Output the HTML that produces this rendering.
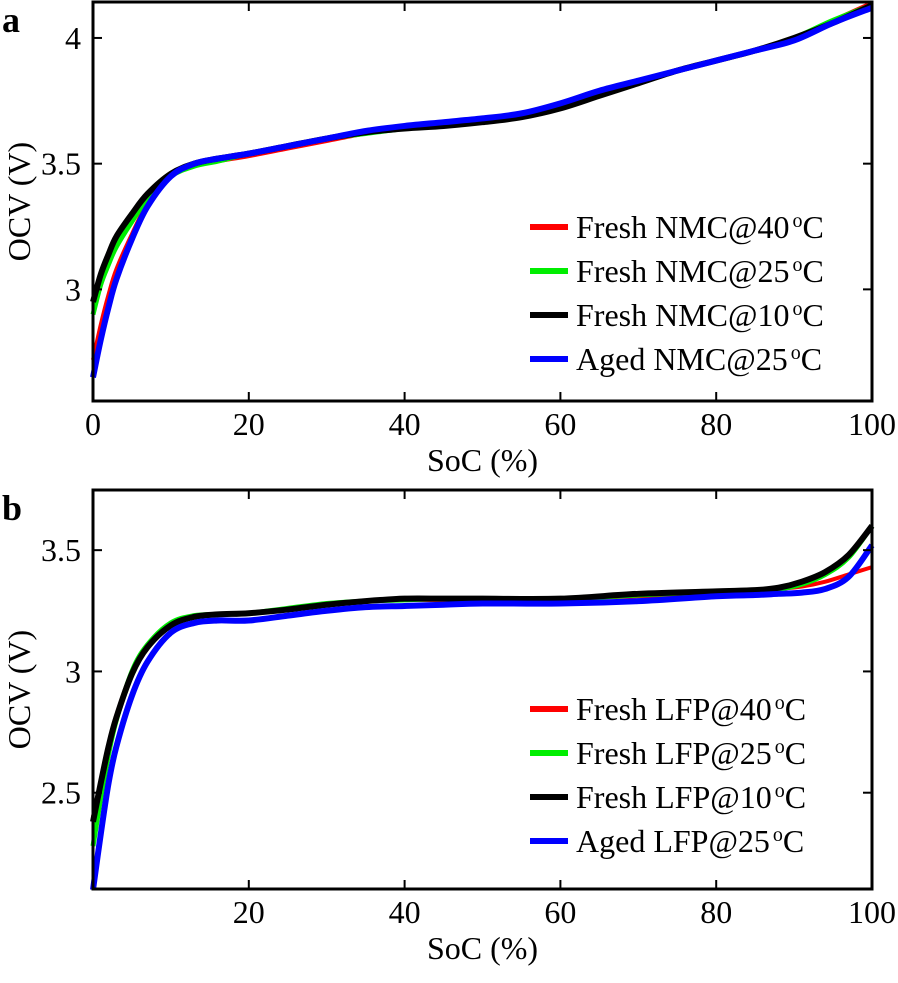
<!DOCTYPE html>
<html><head><meta charset="utf-8"><style>
body{margin:0;background:#fff}
svg text{font-family:"Liberation Serif",serif;fill:#000}
</style></head><body>
<svg id="c" width="898" height="978" xmlns="http://www.w3.org/2000/svg"></svg>
<script>
const socA=[0,1,2,3,5,7,10,13,16,20,25,30,35,40,45,50,55,60,65,70,75,80,85,90,95,100];
const nmc40=[2.72,2.86,2.98,3.08,3.22,3.34,3.45,3.49,3.51,3.53,3.56,3.59,3.62,3.64,3.655,3.67,3.69,3.73,3.78,3.83,3.87,3.91,3.95,4.00,4.07,4.14];
const nmc25=[2.90,3.02,3.10,3.17,3.27,3.36,3.45,3.49,3.51,3.54,3.57,3.60,3.62,3.64,3.655,3.67,3.69,3.73,3.78,3.83,3.87,3.91,3.95,4.00,4.07,4.13];
const nmc10=[2.95,3.06,3.14,3.21,3.30,3.38,3.46,3.50,3.52,3.54,3.57,3.60,3.625,3.64,3.65,3.665,3.685,3.72,3.77,3.82,3.87,3.91,3.95,4.00,4.06,4.13];
const nmcAged=[2.65,2.80,2.93,3.04,3.20,3.33,3.45,3.50,3.52,3.54,3.57,3.60,3.63,3.65,3.665,3.68,3.70,3.74,3.79,3.83,3.87,3.91,3.95,3.99,4.06,4.12];
const socB=[0,1,2,3,5,7,10,13,16,20,25,30,35,40,45,50,60,70,80,85,88,91,94,97,100];
const lfp40=[2.40,2.55,2.70,2.82,3.00,3.10,3.19,3.225,3.235,3.24,3.255,3.275,3.29,3.295,3.295,3.295,3.30,3.31,3.32,3.33,3.34,3.35,3.37,3.40,3.43];
const lfp25=[2.28,2.48,2.66,2.80,3.00,3.11,3.20,3.23,3.235,3.24,3.26,3.28,3.29,3.295,3.30,3.30,3.30,3.315,3.33,3.335,3.34,3.36,3.40,3.47,3.60];
const lfp10=[2.38,2.54,2.69,2.81,2.99,3.10,3.19,3.225,3.235,3.24,3.255,3.275,3.29,3.30,3.30,3.30,3.30,3.32,3.33,3.335,3.345,3.37,3.41,3.48,3.60];
const lfpAged=[2.10,2.33,2.54,2.69,2.90,3.04,3.16,3.20,3.21,3.21,3.23,3.25,3.265,3.27,3.275,3.28,3.28,3.29,3.31,3.315,3.32,3.325,3.34,3.39,3.52];
const xTicksA=[0,20,40,60,80,100], yTicksA=[3,3.5,4];
const xTicksB=[20,40,60,80,100], yTicksB=[2.5,3,3.5];
const colors=["#ff0000","#00ee00","#000000","#0000ff"];
const labelsA=["Fresh NMC@40","Fresh NMC@25","Fresh NMC@10","Aged NMC@25"];
const labelsB=["Fresh LFP@40","Fresh LFP@25","Fresh LFP@10","Aged LFP@25"];

const svg=document.getElementById('c');const NS="http://www.w3.org/2000/svg";
function mk(t,a,p){const e=document.createElementNS(NS,t);for(const k in a)e.setAttribute(k,a[k]);(p||svg).appendChild(e);return e;}
function panel(o){
  const g=mk('g',{});
  
  
  const X=v=>o.x0+(v-0)/100*(o.x1-o.x0);
  const Y=v=>o.y1-(v-o.ymin)/(o.ymax-o.ymin)*(o.y1-o.y0);
  o.series.forEach((s,i)=>{
    const pts=o.soc.map((x,j)=>[X(x),Y(s[j])]);
    let d="M"+pts[0][0]+","+pts[0][1];
    for(let j=0;j<pts.length-1;j++){const p0=pts[Math.max(0,j-1)],p1=pts[j],p2=pts[j+1],p3=pts[Math.min(pts.length-1,j+2)];
      d+=` C${p1[0]+(p2[0]-p0[0])/6},${p1[1]+(p2[1]-p0[1])/6} ${p2[0]-(p3[0]-p1[0])/6},${p2[1]-(p3[1]-p1[1])/6} ${p2[0]},${p2[1]}`;}
    const p=mk('path',{d:d,fill:'none',stroke:colors[i],'stroke-width':i==0?4:(i==1?5:6),'stroke-linejoin':'round'},g);
    
    
  });
  const f=mk('rect',{x:o.x0,y:o.y0,width:o.x1-o.x0,height:o.y1-o.y0,fill:'none',stroke:'#000','stroke-width':3},g);
  
  
  o.xt.forEach(v=>{mk('line',{x1:X(v),x2:X(v),y1:o.y1,y2:o.y1-9,stroke:'#000','stroke-width':2},g);mk('line',{x1:X(v),x2:X(v),y1:o.y0,y2:o.y0+9,stroke:'#000','stroke-width':2},g);
    const t=mk('text',{x:X(v),y:o.y1+34,'text-anchor':'middle','font-size':32},g);t.textContent=v;
    
    });
  o.yt.forEach(v=>{mk('line',{x1:o.x0,x2:o.x0+9,y1:Y(v),y2:Y(v),stroke:'#000','stroke-width':2},g);mk('line',{x1:o.x1,x2:o.x1-9,y1:Y(v),y2:Y(v),stroke:'#000','stroke-width':2},g);
    const t=mk('text',{x:o.x0-12,y:Y(v)+11,'text-anchor':'end','font-size':32},g);t.textContent=v;
    
    });
  const xl=mk('text',{x:(o.x0+o.x1)/2,y:o.y1+70,'text-anchor':'middle','font-size':32},g);xl.textContent="SoC (%)";
  
  
  const yl=mk('text',{x:0,y:0,'text-anchor':'middle','font-size':32,transform:`translate(30,${(o.y0+o.y1)/2}) rotate(-90)`},g);yl.textContent="OCV (V)";
  
  
  const pl=mk('text',{x:2,y:o.y0+30,'font-size':36,'font-weight':'bold'},g);pl.textContent=o.letter;
  
  
  o.labels.forEach((l,i)=>{const y=o.ly+i*o.ld;
    const e=mk('g',{},g);
    
    
    mk('line',{x1:530,x2:568,y1:y,y2:y,stroke:colors[i],'stroke-width':6},e);
    const t=mk('text',{x:576,y:y+11,'font-size':32},e);
    t.innerHTML=l+'<tspan dy="-11" font-size="20" dx="3">o</tspan><tspan dy="11">C</tspan>';});
}
panel({name:'panel-a-nmc',letter:'a',x0:93,x1:872,y0:2,y1:401,ymin:2.556,ymax:4.143,soc:socA,series:[nmc40,nmc25,nmc10,nmcAged],xt:xTicksA,yt:yTicksA,labels:labelsA,ly:227,ld:44});
panel({name:'panel-b-lfp',letter:'b',x0:93,x1:872,y0:490,y1:889,ymin:2.103,ymax:3.748,soc:socB,series:[lfp40,lfp25,lfp10,lfpAged],xt:xTicksB,yt:yTicksB,labels:labelsB,ly:709,ld:44});
</script>
</body></html>
